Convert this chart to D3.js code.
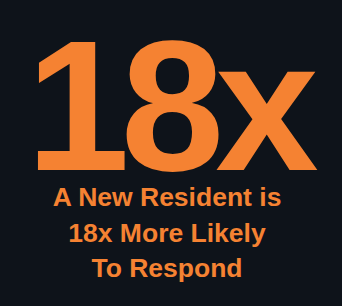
<!DOCTYPE html>
<html>
<head>
<meta charset="utf-8">
<script src="https://cdn.jsdelivr.net/npm/d3@7"></script>
<style>
  html, body { margin: 0; padding: 0; background: #0e131a; }
  svg { display: block; }
</style>
</head>
<body>
<div id="stage"></div>
<script>
// big number + caption lines
const headline = ['18x'];
const captionLines = ['A New Resident is', '18x More Likely', 'To Respond'];

const W = 342, H = 306;
const ORANGE = '#f58232', BG = '#0e131a';
const FONT = '"Liberation Sans", Arial, Helvetica, sans-serif';

const svg = d3.select('#stage').append('svg').attr('width', W).attr('height', H);
svg.append('rect').attr('width', W).attr('height', H).attr('fill', BG);

// caption rows placed through a point scale
const y = d3.scalePoint().domain(captionLines).range([206, 277]);

svg.selectAll('text.big').data(headline).join('text').attr('class', 'big')
  .attr('x', 168).attr('y', 170).attr('text-anchor', 'middle')
  .attr('font-family', FONT).attr('font-weight', 700).attr('font-size', 186)
  .attr('letter-spacing', -9)
  .attr('fill', ORANGE).text(d => d);

svg.selectAll('text.cap').data(captionLines).join('text').attr('class', 'cap')
  .attr('x', 167).attr('y', d => y(d)).attr('text-anchor', 'middle')
  .attr('font-family', FONT).attr('font-weight', 700).attr('font-size', 26.5)
  .attr('fill', ORANGE).text(d => d);
</script>
</body>
</html>
